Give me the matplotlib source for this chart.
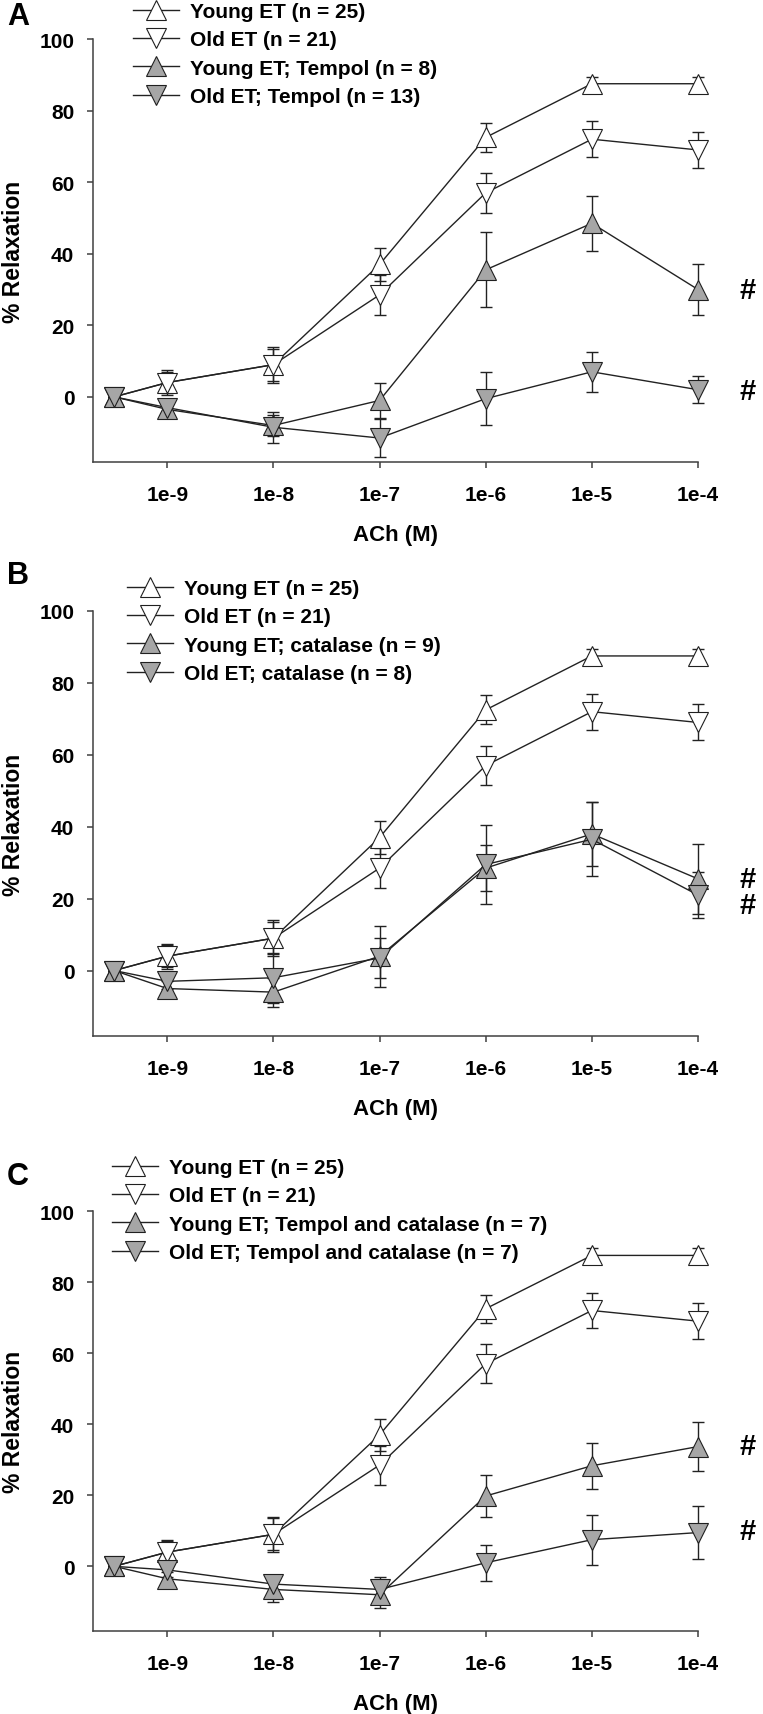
import numpy as np
import matplotlib
matplotlib.use("Agg")
import matplotlib.pyplot as plt
import matplotlib.transforms as mtransforms

plt.rcParams['font.family'] = ['Liberation Sans', 'DejaVu Sans']
plt.rcParams['font.weight'] = 'bold'
plt.rcParams['axes.labelweight'] = 'bold'

# ACh concentration (M); first point is the baseline
conc = [10 ** -9.5, 1e-9, 1e-8, 1e-7, 1e-6, 1e-5, 1e-4]
tick_conc = [1e-9, 1e-8, 1e-7, 1e-6, 1e-5, 1e-4]
tick_labels = ["1e-9", "1e-8", "1e-7", "1e-6", "1e-5", "1e-4"]

young_et = [0, 4, 9, 37, 72.5, 87.5, 87.5]
young_et_err = [0, 3, 4.5, 4.5, 4, 2, 2]
old_et = [0, 4, 9, 28.5, 57, 72, 69]
old_et_err = [0, 3.5, 5, 5.5, 5.5, 5, 5]

young_tempol = [0, -3.5, -8, -1, 35.5, 48.5, 30]
young_tempol_err = [0, 2, 3, 5, 10.5, 7.7, 7]
old_tempol = [0, -3, -8.5, -11.5, -0.5, 7, 2]
old_tempol_err = [0, 2, 4.3, 5.3, 7.5, 5.5, 3.8]

young_cat = [0, -5, -6, 4, 28.5, 38, 25.5]
young_cat_err = [0, 2, 4, 8.5, 6.3, 9, 9.8]
old_cat = [0, -3, -2, 3.5, 29.5, 36.5, 21]
old_cat_err = [0, 2, 7, 5.5, 11, 10.3, 6.5]

young_tc = [0, -3.5, -6.5, -8, 19.8, 28.3, 33.7]
young_tc_err = [0, 2, 3.6, 3.7, 5.9, 6.4, 6.9]
old_tc = [0, -1, -5, -6.5, 1, 7.5, 9.5]
old_tc_err = [0, 2, 2.5, 3.5, 5, 7, 7.5]

panels = [
    ("A", [("Young ET (n = 25)", young_et, young_et_err),
           ("Old ET (n = 21)", old_et, old_et_err),
           ("Young ET; Tempol (n = 8)", young_tempol, young_tempol_err),
           ("Old ET; Tempol (n = 13)", old_tempol, old_tempol_err)],
     [30, 1.5]),
    ("B", [("Young ET (n = 25)", young_et, young_et_err),
           ("Old ET (n = 21)", old_et, old_et_err),
           ("Young ET; catalase (n = 9)", young_cat, young_cat_err),
           ("Old ET; catalase (n = 8)", old_cat, old_cat_err)],
     [25.5, 18.3]),
    ("C", [("Young ET (n = 25)", young_et, young_et_err),
           ("Old ET (n = 21)", old_et, old_et_err),
           ("Young ET; Tempol and catalase (n = 7)", young_tc, young_tc_err),
           ("Old ET; Tempol and catalase (n = 7)", old_tc, old_tc_err)],
     [34, 10]),
]

markers = ["^", "v", "^", "v"]
fills = ["white", "white", "#a6a6a6", "#a6a6a6"]
line_col = "#222222"
axis_col = "#404040"

W, H = 763, 1715
fig = plt.figure(figsize=(W / 100, H / 100), dpi=100)

# pixel layout: top of axes (=100), bottom of axes, legend top, legend left, letter y
layout = [(40, 463, 3, 133, 17),
          (612, 1037, 580, 127, 576),
          (1212, 1632, 1159, 112, 1177)]
x_left, x_right = 93, 698

for (letter, series, hashes), (top, bot, leg_top, leg_left, let_y) in zip(panels, layout):
    ax = fig.add_axes([x_left / W, 1 - bot / H, (x_right - x_left) / W, (bot - top) / H])
    handles = []
    for (label, y, err), m, fc in zip(series, markers, fills):
        ax.errorbar(conc, y, yerr=err, fmt="none", ecolor=line_col, elinewidth=1,
                    capsize=4.5, capthick=1, zorder=2, clip_on=False)
        h, = ax.plot(conc, y, color=line_col, lw=1, marker=m, ms=14,
                     mfc=fc, mec="#202020", mew=0.8, label=label, zorder=3,
                     clip_on=False)
        handles.append(h)

    ax.set_xscale("log")
    ax.set_xlim(10 ** -9.7, 1e-4)
    ax.set_ylim(-18.2, 100)
    ax.set_xticks(tick_conc)
    ax.set_xticklabels(tick_labels)
    ax.xaxis.set_minor_locator(matplotlib.ticker.NullLocator())
    ax.set_yticks([0, 20, 40, 60, 80, 100])
    for s in ["top", "right"]:
        ax.spines[s].set_visible(False)
    for s in ["left", "bottom"]:
        ax.spines[s].set_color(axis_col)
        ax.spines[s].set_linewidth(1.1)
    ax.tick_params(axis="both", direction="out", length=4.5, width=1.1, color=axis_col,
                   labelsize=15)
    ax.tick_params(axis="x", pad=12)
    ax.tick_params(axis="y", pad=9)

    ax.set_xlabel("ACh (M)", fontsize=16, va="center")
    ax.xaxis.set_label_coords(0.5, -73 / (bot - top))
    ax.set_ylabel("% Relaxation", fontsize=16.5, va="center")
    ax.yaxis.set_label_coords(-(93 - 14) / (x_right - x_left), 0.5)

    trans = mtransforms.blended_transform_factory(ax.transAxes, ax.transData)
    for hy in hashes:
        ax.text((748 - x_left) / (x_right - x_left), hy, "#", transform=trans,
                ha="center", va="center", fontsize=21, clip_on=False)

    fig.text(18 / W, 1 - let_y / H, letter, fontsize=22, ha="center", va="center")

    fig.legend(handles=handles, loc="upper left",
               bbox_to_anchor=(leg_left / W, 1 - leg_top / H),
               frameon=False, fontsize=15, borderpad=0, borderaxespad=0,
               handlelength=2.2, handletextpad=0.55, labelspacing=0.45, numpoints=1)

fig.savefig("out.png", dpi=100)
